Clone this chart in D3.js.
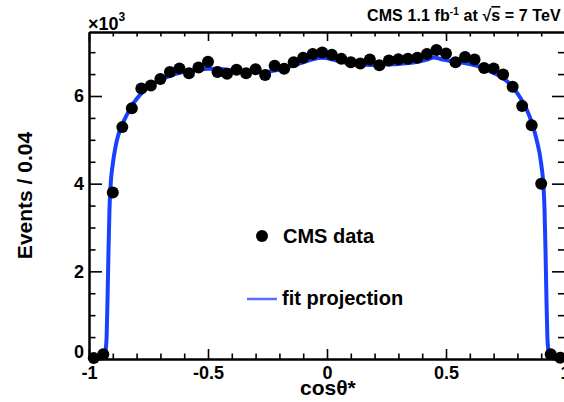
<!DOCTYPE html>
<html>
<head>
<meta charset="utf-8">
<script src="https://cdn.jsdelivr.net/npm/d3@7"></script>
<style>
  body { margin: 0; background: #fff; }
  svg { display: block; }
  text { font-family: 'Liberation Sans', Arial, sans-serif; font-weight: bold; fill: #000; }
</style>
</head>
<body>
<div id="chart"></div>
<script>
// bin centres (width 0.04) and events per bin, in units of 10^3
const binCenters = [-0.98, -0.94, -0.90, -0.86, -0.82, -0.78, -0.74, -0.70, -0.66, -0.62,
  -0.58, -0.54, -0.50, -0.46, -0.42, -0.38, -0.34, -0.30, -0.26, -0.22,
  -0.18, -0.14, -0.10, -0.06, -0.02, 0.02, 0.06, 0.10, 0.14, 0.18,
  0.22, 0.26, 0.30, 0.34, 0.38, 0.42, 0.46, 0.50, 0.54, 0.58,
  0.62, 0.66, 0.70, 0.74, 0.78, 0.82, 0.86, 0.90, 0.94, 0.98];
const events = [0.02, 0.11, 3.80, 5.29, 5.72, 6.17, 6.24, 6.39, 6.55, 6.63,
  6.52, 6.65, 6.78, 6.55, 6.51, 6.60, 6.52, 6.61, 6.48, 6.69,
  6.62, 6.77, 6.87, 6.96, 6.99, 6.94, 6.85, 6.77, 6.74, 6.83,
  6.70, 6.81, 6.84, 6.85, 6.87, 6.96, 7.05, 6.97, 6.77, 6.89,
  6.83, 6.64, 6.63, 6.49, 6.21, 5.77, 5.33, 4.00, 0.11, 0.03];

// fit projection
const fitX = [-0.94, -0.935, -0.93, -0.926, -0.922, -0.918, -0.914, -0.91, -0.90, -0.89,
  -0.88, -0.86, -0.84, -0.82, -0.80, -0.78, -0.76, -0.74, -0.70, -0.66,
  -0.62, -0.58, -0.54, -0.50, -0.46, -0.42, -0.38, -0.34, -0.30, -0.26,
  -0.22, -0.18, -0.14, -0.10, -0.06, -0.02, 0.02, 0.06, 0.10, 0.14,
  0.18, 0.22, 0.26, 0.30, 0.34, 0.38, 0.42, 0.45, 0.48, 0.52,
  0.56, 0.60, 0.64, 0.68, 0.72, 0.76, 0.80, 0.84, 0.86, 0.88,
  0.90, 0.91, 0.914, 0.918, 0.922, 0.926, 0.93, 0.935, 0.94];
const fitY = [0, 0.02, 0.2, 0.5, 1.4, 2.5, 3.4, 3.9, 4.45, 4.8,
  5.05, 5.35, 5.58, 5.78, 5.93, 6.06, 6.16, 6.25, 6.37, 6.46,
  6.53, 6.57, 6.60, 6.62, 6.62, 6.60, 6.58, 6.56, 6.55, 6.55,
  6.58, 6.63, 6.70, 6.77, 6.84, 6.87, 6.84, 6.78, 6.74, 6.72,
  6.71, 6.71, 6.72, 6.73, 6.75, 6.78, 6.83, 6.88, 6.84, 6.80,
  6.77, 6.73, 6.67, 6.58, 6.47, 6.32, 6.06, 5.68, 5.40, 5.02,
  4.45, 3.9, 3.4, 2.5, 1.4, 0.5, 0.2, 0.02, 0];

const xMajor = [-1, -0.5, 0, 0.5, 1];
const xMinor = [-0.9, -0.8, -0.7, -0.6, -0.4, -0.3, -0.2, -0.1, 0.1, 0.2, 0.3, 0.4, 0.6, 0.7, 0.8, 0.9];
const xTickLabels = ['-1', '-0.5', '0', '0.5', '1'];
const yMajor = [0, 2, 4, 6];
const yMinor = [0.5, 1, 1.5, 2.5, 3, 3.5, 4.5, 5, 5.5, 6.5, 7];

const width = 564, height = 402;
const marginLeft = 89, plotRight = 565, marginTop = 32, plotBottom = 359;

const svg = d3.select('#chart').append('svg')
  .attr('width', width)
  .attr('height', height);

const x = d3.scaleLinear().domain([-1, 1]).range([marginLeft, plotRight]);
const y = d3.scaleLinear().domain([0, 7.46]).range([plotBottom, marginTop]);

function styleAxis(g) {
  g.select('.domain').attr('stroke', '#000').attr('stroke-width', 2);
  g.selectAll('.tick line').attr('stroke', '#000').attr('stroke-width', 1.6);
}

// bottom axis (ticks inward)
svg.append('g')
  .attr('transform', `translate(0,${plotBottom})`)
  .call(d3.axisBottom(x).tickValues(xMinor).tickSize(-5.5).tickSizeOuter(0).tickFormat(''))
  .call(styleAxis);
const xAxis = svg.append('g')
  .attr('transform', `translate(0,${plotBottom})`)
  .call(d3.axisBottom(x).tickValues(xMajor).tickSize(-10).tickSizeOuter(0)
    .tickPadding(7).tickFormat((d, i) => xTickLabels[i]))
  .call(styleAxis);
xAxis.selectAll('text').style('font-size', '18px').attr('fill', '#000');

// top axis (mirror)
svg.append('g')
  .attr('transform', `translate(0,${marginTop})`)
  .call(d3.axisTop(x).tickValues(xMinor).tickSize(-4.5).tickSizeOuter(0).tickFormat(''))
  .call(styleAxis);
svg.append('g')
  .attr('transform', `translate(0,${marginTop})`)
  .call(d3.axisTop(x).tickValues(xMajor).tickSize(-9).tickSizeOuter(0).tickFormat(''))
  .call(styleAxis);

// left axis
svg.append('g')
  .attr('transform', `translate(${marginLeft},0)`)
  .call(d3.axisLeft(y).tickValues(yMinor).tickSize(-6.5).tickSizeOuter(0).tickFormat(''))
  .call(styleAxis);
const yAxis = svg.append('g')
  .attr('transform', `translate(${marginLeft},0)`)
  .call(d3.axisLeft(y).tickValues(yMajor).tickSize(-13).tickSizeOuter(0)
    .tickPadding(5).tickFormat(d3.format('d')))
  .call(styleAxis);
yAxis.selectAll('text').style('font-size', '18px').attr('fill', '#000');
yAxis.selectAll('.tick').filter(d => d === 0).select('text').attr('dy', '-0.08em');

// right axis (mirror)
svg.append('g')
  .attr('transform', `translate(${plotRight},0)`)
  .call(d3.axisRight(y).tickValues(yMinor).tickSize(-7).tickSizeOuter(0).tickFormat(''))
  .call(styleAxis);
svg.append('g')
  .attr('transform', `translate(${plotRight},0)`)
  .call(d3.axisRight(y).tickValues(yMajor).tickSize(-13).tickSizeOuter(0).tickFormat(''))
  .call(styleAxis);

// fit projection
const fitData = fitX.map((v, i) => ({ c: v, n: fitY[i] }));
const line = d3.line()
  .x(d => x(d.c))
  .y(d => y(d.n))
  .curve(d3.curveMonotoneX);

svg.append('path')
  .datum(fitData)
  .attr('fill', 'none')
  .attr('stroke', '#1a40ff')
  .attr('stroke-width', 4)
  .attr('d', line);

// data points
svg.append('g')
  .selectAll('circle')
  .data(binCenters.map((c, i) => ({ c, n: events[i] })))
  .join('circle')
  .attr('cx', d => x(d.c))
  .attr('cy', d => y(d.n))
  .attr('r', 6)
  .attr('fill', '#000');

// axis titles
svg.append('text')
  .attr('transform', `translate(32,${(marginTop + plotBottom) / 2}) rotate(-90)`)
  .attr('text-anchor', 'middle')
  .style('font-size', '21px')
  .text('Events / 0.04');

svg.append('text')
  .attr('x', 300)
  .attr('y', 395)
  .style('font-size', '21px')
  .text('cosθ*');

// exponent
const expo = svg.append('text')
  .attr('x', 88)
  .attr('y', 30)
  .style('font-size', '18px');
expo.append('tspan').text('×10');
expo.append('tspan').attr('dy', -9).style('font-size', '12px').text('3');

// header
const head = svg.append('text')
  .attr('x', 367)
  .attr('y', 21)
  .style('font-size', '16px')
  .style('letter-spacing', '0.1px');
head.append('tspan').text('CMS 1.1 fb');
head.append('tspan').attr('dy', -6).style('font-size', '10px').text('-1');
head.append('tspan').attr('dy', 6).text(' at √');
head.append('tspan').style('text-decoration', 'overline').text('s');
head.append('tspan').text(' = 7 TeV');

// legend
svg.append('circle')
  .attr('cx', 262)
  .attr('cy', 236)
  .attr('r', 6)
  .attr('fill', '#000');
svg.append('text')
  .attr('x', 283)
  .attr('y', 243)
  .style('font-size', '20px')
  .text('CMS data');

svg.append('line')
  .attr('x1', 247).attr('x2', 277)
  .attr('y1', 299).attr('y2', 299)
  .attr('stroke', '#5a6cff')
  .attr('stroke-width', 2.5);
svg.append('text')
  .attr('x', 282)
  .attr('y', 305)
  .style('font-size', '20px')
  .text('fit projection');
</script>
</body>
</html>
